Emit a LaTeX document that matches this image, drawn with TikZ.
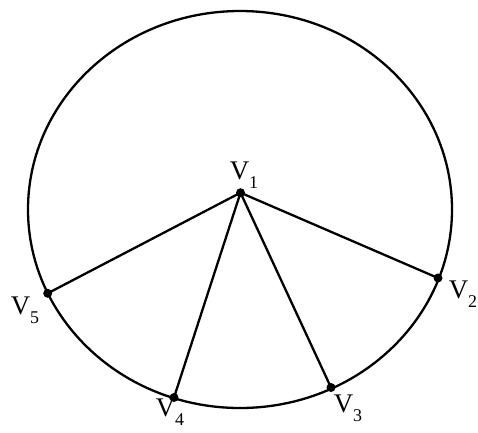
\documentclass[tikz,border=0pt]{standalone}
\usepackage{fontspec}
\setmainfont{Liberation Serif}
\newcommand{\vsub}[1]{\raisebox{-0.32em}{\fontsize{18}{18}\selectfont #1}}
\begin{document}
\begin{tikzpicture}[x=1bp,y=-1bp,
  edge/.style={line width=2.3bp,black},
  vdot/.style={circle,fill=black,inner sep=0pt,minimum size=9bp},
  vlabel/.style={inner sep=0pt,font=\fontsize{27}{30}\selectfont}]
\useasboundingbox (0,0) rectangle (478,432);
\coordinate (c) at (240,209.5);
\draw[edge] (c) ellipse [x radius=212, y radius=198.5];
\node[vdot] (v1) at (240.5,192.7) {};
\node[vdot] (v2) at (438,278) {};
\node[vdot] (v3) at (331,387.5) {};
\node[vdot] (v4) at (174,397.5) {};
\node[vdot] (v5) at (47.7,293.3) {};
\draw[edge] (v1.center) -- (v2.center);
\draw[edge] (v1.center) -- (v3.center);
\draw[edge] (v1.center) -- (v4.center);
\draw[edge] (v1.center) -- (v5.center);
\node[vlabel] (l1) at (244,175) {V\vsub{1}};
\node[vlabel] (l2) at (463,294) {V\vsub{2}};
\node[vlabel] (l3) at (348,408) {V\vsub{3}};
\node[vlabel] (l4) at (170,412) {V\vsub{4}};
\node[vlabel] (l5) at (25,310) {V\vsub{5}};
\end{tikzpicture}
\end{document}
